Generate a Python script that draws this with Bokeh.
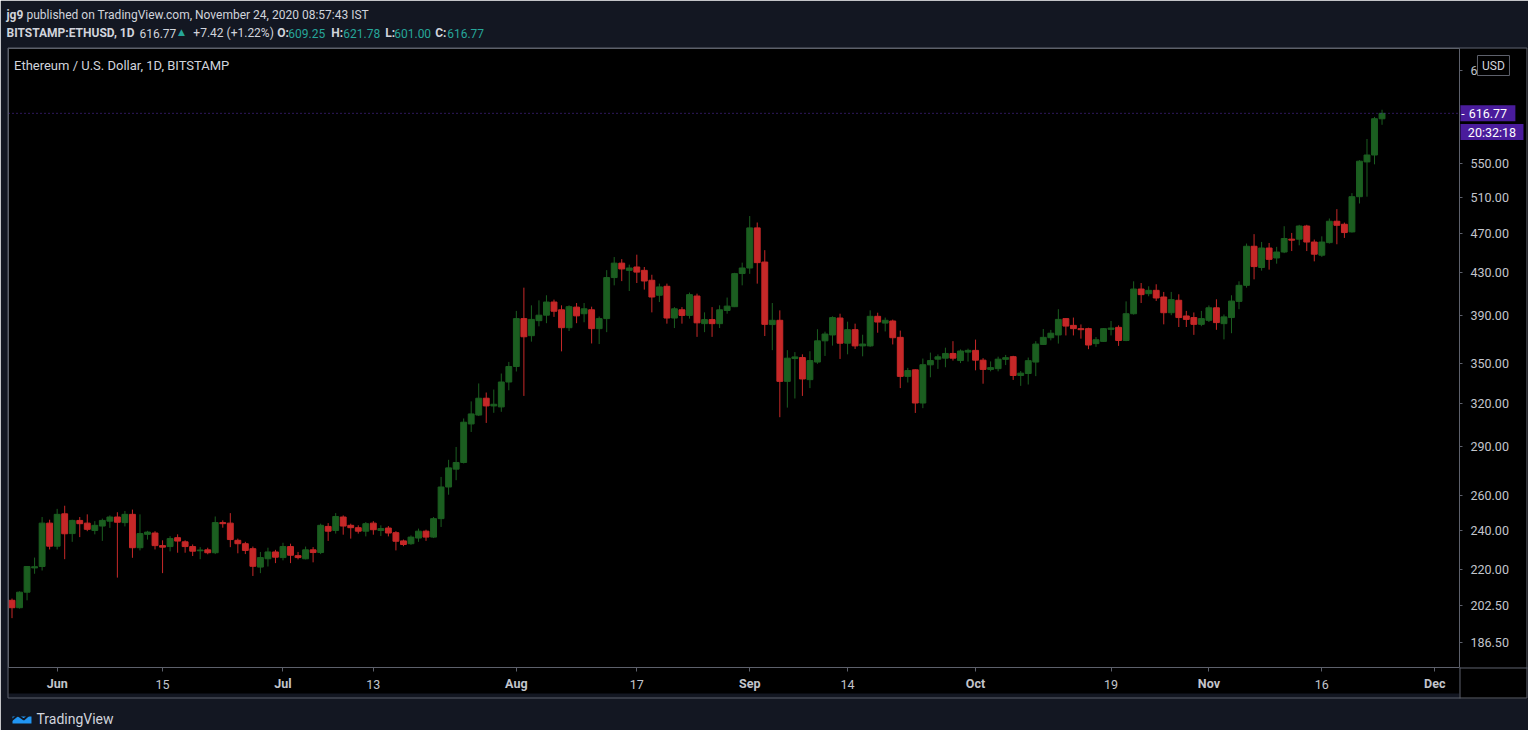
import math
import pandas as pd
from bokeh.plotting import figure
from bokeh.models import (Range1d, FixedTicker, PrintfTickFormatter, Label, Span,
                          ColumnDataSource)
from bokeh.core.properties import value
from bokeh.embed import file_html
from bokeh.resources import INLINE

# ---------------- data (BITSTAMP:ETHUSD daily) ----------------
START = "2020-05-26"
ORIGIN = "2020-06-01"

opens = [
    205.0, 201.6, 208.8, 220.6, 221.3, 244.1,
    231.7, 249.3, 238.4, 245.6, 244.1, 240.1, 242.5, 245.2, 247.5, 244.4,
    249.0, 230.9, 238.0, 238.7, 232.0, 231.5, 236.2, 234.0, 231.5, 229.3,
    229.8, 228.3, 244.4, 244.1, 234.8, 233.0, 230.4, 221.0, 225.2, 228.7,
    225.8, 231.5, 226.8, 225.2, 229.8, 228.4, 242.3, 240.1, 247.5, 242.9,
    241.6, 239.7, 244.1, 240.1, 241.4, 238.9, 234.5, 233.0, 236.0, 239.7,
    236.5, 246.6, 264.9, 275.8, 280.0, 305.5, 311.7, 323.8, 318.2, 317.5, 335.9,
    347.9, 387.7, 373.0, 385.9, 390.7, 402.5, 395.5, 379.8, 397.9, 392.0,
    395.5, 379.0, 387.7, 425.4, 439.5, 432.4, 435.7, 432.4, 422.8, 408.7,
    417.1, 388.2, 395.5, 390.5, 408.0, 383.3, 386.8, 383.3, 394.9, 398.3, 429.3,
    434.7, 476.0, 440.6, 382.5, 386.2, 336.4, 354.2, 355.0, 337.7, 351.4,
    368.7, 373.6, 388.2, 366.7, 378.1, 364.5, 364.5, 389.7, 383.8, 385.6,
    371.6, 340.2, 345.3, 320.3, 349.2, 353.7, 354.5, 358.3, 352.6, 359.4,
    360.8, 352.9, 345.6, 346.2, 353.6, 355.7, 340.9, 342.4, 351.4, 365.7,
    371.3, 373.6, 387.7, 381.8, 379.0, 379.0, 366.4, 368.2, 378.4, 380.1,
    369.0, 392.0, 414.5, 410.2, 413.3, 407.1, 392.9, 404.1, 390.0, 388.6, 382.7,
    386.2, 397.3, 383.3, 388.6, 403.1, 418.0, 456.6, 435.2, 454.8, 444.7,
    450.7, 464.0, 464.0, 478.0, 461.0, 447.5, 460.4, 483.2, 479.9, 471.7,
    510.8, 552.6, 561.3, 609.25,
]
highs = [
    205.8, 209.2, 221.5, 225.8, 247.5, 246.0,
    252.1, 253.9, 246.0, 247.5, 249.0, 245.2, 246.6, 248.4, 250.2, 250.9,
    251.7, 249.0, 239.9, 239.7, 234.8, 237.0, 238.0, 234.8, 232.6, 231.2,
    230.9, 247.8, 245.6, 249.7, 235.7, 234.0, 231.5, 228.7, 230.9, 229.8,
    233.5, 233.0, 228.7, 231.5, 231.2, 243.8, 244.1, 249.7, 248.4, 243.8,
    242.9, 244.7, 245.2, 242.9, 242.5, 239.7, 235.2, 237.4, 241.1, 240.5,
    247.5, 271.0, 281.7, 290.0, 309.3, 321.5, 334.8, 328.0, 330.2, 342.4, 351.5,
    394.5, 415.8, 399.5, 404.0, 408.7, 404.7, 399.5, 399.5, 401.6, 401.6,
    398.3, 389.5, 432.6, 445.6, 443.5, 438.0, 448.0, 435.7, 428.1, 419.6,
    419.6, 397.9, 397.9, 411.2, 410.2, 393.2, 397.9, 399.5, 406.6, 430.0, 440.0,
    488.9, 481.8, 452.6, 401.6, 395.0, 361.0, 359.4, 357.6, 360.1, 378.5,
    376.4, 389.7, 392.0, 385.0, 383.3, 373.8, 395.0, 392.9, 388.6, 386.8,
    377.3, 346.8, 345.6, 354.2, 359.0, 357.5, 363.0, 368.4, 361.6, 362.2,
    369.7, 354.5, 351.9, 355.7, 357.1, 356.4, 344.3, 355.0, 368.4, 378.7,
    377.9, 396.0, 388.2, 388.6, 382.6, 379.8, 371.8, 379.5, 385.6, 381.8,
    403.1, 421.8, 420.2, 417.1, 419.0, 411.8, 411.8, 409.6, 394.5, 393.1, 394.5,
    399.4, 405.0, 391.3, 408.7, 421.8, 459.4, 469.3, 461.1, 460.0, 456.0,
    477.8, 470.6, 479.3, 479.3, 463.6, 467.0, 486.2, 496.6, 481.7, 514.9,
    554.8, 582.0, 611.8, 621.78,
]
lows = [
    196.9, 201.2, 205.0, 217.7, 219.3, 230.0,
    230.0, 225.0, 234.0, 236.5, 239.7, 238.0, 234.5, 241.5, 215.8, 242.3,
    225.7, 229.5, 235.2, 230.0, 218.0, 229.0, 228.3, 228.3, 226.6, 225.0,
    227.5, 227.6, 241.6, 231.2, 228.0, 227.6, 216.6, 218.0, 221.3, 223.0,
    224.4, 223.0, 224.9, 224.9, 223.4, 227.6, 234.5, 238.4, 237.8, 235.7,
    238.4, 236.9, 237.8, 237.1, 236.9, 229.5, 231.7, 232.4, 234.0, 234.5,
    236.0, 242.0, 260.3, 269.0, 279.4, 300.0, 311.0, 306.2, 313.3, 314.0, 329.7,
    344.0, 325.5, 368.0, 381.0, 383.7, 389.2, 360.0, 377.0, 383.7, 384.5,
    366.5, 366.0, 376.0, 418.0, 422.0, 412.7, 420.2, 414.0, 393.2, 402.5,
    383.3, 379.5, 383.3, 387.7, 372.0, 376.0, 372.0, 379.5, 392.0, 397.9, 418.0,
    429.0, 419.6, 372.7, 361.0, 310.2, 317.0, 323.6, 325.5, 331.3, 350.0,
    356.3, 364.7, 353.9, 357.6, 362.0, 356.0, 363.7, 375.5, 376.6, 365.7,
    331.3, 335.5, 313.2, 316.6, 339.5, 346.0, 347.3, 352.6, 350.6, 351.8,
    344.9, 334.6, 344.1, 344.1, 349.0, 337.5, 333.0, 334.0, 340.4, 365.2,
    369.1, 366.4, 373.2, 373.2, 370.5, 361.8, 363.7, 367.7, 373.2, 364.5,
    368.4, 391.2, 401.6, 407.8, 403.5, 382.7, 390.7, 380.4, 380.4, 373.7, 381.1,
    384.7, 378.0, 369.9, 375.1, 396.0, 415.8, 423.7, 432.1, 433.1, 439.0,
    449.6, 451.7, 457.6, 451.7, 441.3, 445.8, 459.4, 458.7, 465.3, 471.0,
    503.0, 510.8, 549.6, 601.00,
]
closes = [
    201.6, 208.8, 221.3, 221.2, 244.1, 231.7,
    249.0, 238.3, 245.6, 243.8, 240.7, 242.9, 245.6, 247.5, 244.6, 249.0,
    230.9, 238.4, 239.2, 232.0, 231.2, 235.7, 234.4, 231.5, 229.1, 229.7,
    228.3, 244.4, 243.8, 235.2, 233.0, 229.5, 221.4, 225.8, 228.7, 226.0,
    231.5, 227.0, 225.8, 229.8, 228.4, 242.9, 239.7, 247.8, 242.5, 241.6,
    239.7, 243.8, 240.5, 241.1, 238.7, 234.3, 232.6, 236.5, 239.7, 236.5,
    246.6, 264.9, 276.6, 280.0, 306.7, 312.5, 323.8, 318.2, 319.4, 335.9, 347.9,
    387.7, 372.1, 387.0, 390.7, 402.5, 394.2, 379.8, 398.3, 390.1, 396.4,
    379.0, 387.7, 425.4, 439.5, 433.8, 434.7, 430.7, 422.1, 407.1, 416.5,
    388.2, 396.4, 390.5, 409.3, 384.0, 386.8, 383.3, 395.5, 398.8, 429.2, 434.7,
    476.0, 440.0, 382.7, 386.2, 336.4, 354.5, 355.5, 338.2, 352.6, 368.7,
    374.4, 388.6, 366.7, 378.1, 364.5, 366.0, 389.7, 384.7, 386.2, 371.3,
    340.2, 344.7, 320.3, 349.3, 352.6, 355.6, 358.3, 354.5, 360.3, 360.8,
    352.9, 345.6, 347.0, 353.7, 354.9, 340.9, 342.7, 352.5, 366.0, 371.6,
    375.1, 387.0, 381.2, 379.0, 378.1, 365.2, 369.6, 379.0, 379.5, 369.0,
    392.0, 414.5, 409.3, 413.3, 406.2, 392.9, 404.7, 388.6, 387.0, 382.7, 387.7,
    397.3, 384.2, 389.2, 403.4, 418.0, 456.6, 436.1, 454.8, 443.3, 450.7,
    464.7, 463.0, 478.0, 461.0, 448.5, 461.0, 483.2, 478.8, 471.0, 510.8,
    553.5, 561.3, 609.35, 616.77,
]

x_tick_dates = ["2020-06-01", "2020-06-15", "2020-07-01", "2020-07-13", "2020-08-01",
                "2020-08-17", "2020-09-01", "2020-09-14", "2020-10-01", "2020-10-19",
                "2020-11-01", "2020-11-16", "2020-12-01"]
x_tick_labels = ["Jun", "15", "Jul", "13", "Aug", "17", "Sep", "14", "Oct", "19",
                 "Nov", "16", "Dec"]
y_ticks = [186.5, 202.5, 220, 240, 260, 290, 320, 350, 390, 430, 470, 510, 550, 680]

last_price = 616.77
countdown = "20:32:18"

# ---------------- styling / layout ----------------
PAGE = "#131722"
UP = "#1b5e20"
DOWN = "#c62828"
AXIS_GRAY = "#5d606b"
LABEL_GRAY = "#c3c5cc"
HEAD = "#d1d4dc"
TEAL = "#26a69a"
PURPLE = "#4a1c9c"
LOGO_BLUE = "#2196f3"
FONT = "Roboto"

W, H = 1528, 730
FL, FR, FT, FB = 8, 1460, 48, 667          # plot frame edges in canvas pixels
X0, X1 = -6.465, 186.29                     # visible days relative to ORIGIN
Y0, Y1 = 176.1, 714.2                       # visible price range (log)

dates = pd.date_range(START, periods=len(closes), freq="D")
origin = pd.Timestamp(ORIGIN)
xd = [(d - origin) / pd.Timedelta(days=1) for d in dates]
src = ColumnDataSource(dict(
    x=xd, open=opens, high=highs, low=lows, close=closes,
    top=[max(o, c) for o, c in zip(opens, closes)],
    bottom=[min(o, c) for o, c in zip(opens, closes)],
    color=[UP if c >= o else DOWN for o, c in zip(opens, closes)],
))
tick_x = [(pd.Timestamp(d) - origin) / pd.Timedelta(days=1) for d in x_tick_dates]

p = figure(width=W, height=H, y_axis_type="log", y_axis_location="right",
           x_range=Range1d(X0, X1), y_range=Range1d(Y0, Y1),
           output_backend="svg", toolbar_location=None,
           min_border_left=FL, min_border_right=W - FR, min_border_top=FT,
           min_border_bottom=H - FB)
p.background_fill_color = "black"
p.border_fill_color = PAGE
p.outline_line_color = AXIS_GRAY
p.grid.visible = False

p.segment("x", "low", "x", "high", source=src, line_color="color", line_width=1)
p.vbar(x="x", width=0.78, top="top", bottom="bottom", source=src,
       fill_color="color", line_color="color", line_width=1)

p.add_layout(Span(location=last_price, dimension="width", line_color="#5b2fb8",
                  line_dash="1 3", line_width=1))

# right price axis
ya = p.yaxis[0]
ya.ticker = FixedTicker(ticks=y_ticks)
ya.formatter = PrintfTickFormatter(format="%.2f")
ya.major_label_text_font = FONT
ya.major_label_text_font_size = "12.5px"
ya.major_label_text_color = LABEL_GRAY
ya.major_tick_out = 3
ya.major_tick_in = 0
ya.minor_tick_out = 0
ya.minor_tick_in = 0
ya.major_label_standoff = 8
ya.major_tick_line_color = AXIS_GRAY
ya.axis_line_color = AXIS_GRAY
ya.background_fill_color = "black"
ya.axis_label = " "
ya.axis_label_text_font_size = "10px"
ya.axis_label_standoff = 3

# bottom time axis: month names bold on the axis itself
xa = p.xaxis[0]
xa.ticker = FixedTicker(ticks=tick_x)
xa.major_label_overrides = {t: (lab if lab.isalpha() else " ")
                            for t, lab in zip(tick_x, x_tick_labels)}
xa.major_label_text_font = FONT
xa.major_label_text_font_size = "12.5px"
xa.major_label_text_font_style = "bold"
xa.major_label_text_color = LABEL_GRAY
xa.major_tick_out = 4
xa.major_tick_in = 0
xa.minor_tick_out = 0
xa.minor_tick_in = 0
xa.major_label_standoff = 4
xa.major_tick_line_color = AXIS_GRAY
xa.axis_line_color = AXIS_GRAY
xa.background_fill_color = "black"

# helpers: canvas pixel -> data coordinate (for things that sit outside the frame)
ppd = (FR - FL) / (X1 - X0)


def xdata(X):
    return X0 + (X - FL) / ppd


def ydata(Y):
    ly0, ly1 = math.log(Y0), math.log(Y1)
    return math.exp(ly0 + (FB - Y) / (FB - FT) * (ly1 - ly0))


def put(text, X, Y, color=HEAD, size="12px", bold=False, align="left", font=FONT):
    p.text(x=[xdata(X)], y=[ydata(Y)], text=[text], text_color=color,
           text_font=value(font), text_font_size=size,
           text_font_style="bold" if bold else "normal",
           text_align=align, text_baseline="middle", level="overlay")


# outer chart box: black corner under the price scale, separators and border
p.quad(left=[xdata(FR)], right=[xdata(W)], top=[ydata(FB)], bottom=[ydata(698)],
       fill_color="black", line_color=None, level="overlay")
p.segment(x0=[xdata(FR + 0.5), xdata(FR)], y0=[ydata(FB), ydata(FB + 0.5)],
          x1=[xdata(FR + 0.5), xdata(W)], y1=[ydata(698), ydata(FB + 0.5)],
          line_color=AXIS_GRAY, line_width=1, level="overlay")
p.quad(left=[xdata(7.5)], right=[xdata(W - 0.5)], top=[ydata(47.5)], bottom=[ydata(697.5)],
       fill_color=None, line_color=AXIS_GRAY, line_width=1, level="overlay")

# day-number labels of the time axis (normal weight)
day_x = [t for t, lab in zip(tick_x, x_tick_labels) if not lab.isalpha()]
day_t = [lab for lab in x_tick_labels if not lab.isalpha()]
p.text(x=day_x, y=[ydata(684)] * len(day_x), text=day_t, text_color=LABEL_GRAY,
       text_font=value(FONT), text_font_size="12.5px", text_align="center",
       text_baseline="middle", level="overlay")

# header
put("jg9", 6, 14.5, bold=True)
put("published on TradingView.com, November 24, 2020 08:57:43 IST", 26, 14.5)
put("BITSTAMP:ETHUSD, 1D", 6, 32.5, bold=True)
put(f"{last_price:.2f}", 139, 32.5)
put("\u25B2", 181, 31.5, color=TEAL, size="9px", align="center", font="DejaVu Sans")
put("+7.42 (+1.22%)", 193, 32.5)
seg_x = [(277, 288), (331, 343), (385, 394), (435, 447)]
for (lx, vx), k, v in zip(seg_x, ["O:", "H:", "L:", "C:"],
                          [opens[-1], highs[-1], lows[-1], closes[-1]]):
    put(k, lx, 32.5, bold=True)
    put(f"{v:.2f}", vx, 32.5, color=TEAL)

# legend title inside the chart
p.add_layout(Label(x=13.5 - FL, y=FB - 65, x_units="screen", y_units="screen",
                   text="Ethereum / U.S. Dollar, 1D, BITSTAMP", text_color=HEAD,
                   text_font=FONT, text_font_size="13px", text_baseline="middle"))

# price-scale badges
p.rect(x=[xdata(1494)], y=[ydata(65)], width=32, height=20, width_units="screen",
       height_units="screen", fill_color="black", line_color=AXIS_GRAY, level="overlay")
put("USD", 1494, 65, size="12px", align="center")
p.rect(x=[xdata(1488.4)], y=[last_price], width=55, height=16, width_units="screen",
       height_units="screen", fill_color=PURPLE, line_color=None, level="overlay")
put(f"{last_price:.2f}", 1488.4, 113, color="white", size="12.5px", align="center")
put("-", 1463.5, 112.5, color="white", size="12px", align="center")
p.rect(x=[xdata(1492.5)], y=[ydata(131.5)], width=63, height=16, width_units="screen",
       height_units="screen", fill_color=PURPLE, line_color=None, level="overlay")
put(countdown, 1492.5, 131.5, color="white", size="12.5px", align="center")

# footer logo: blue cloud with a small line-chart stroke, then the word mark
cloud_x = [14, 24, 30]
cloud_y = [717.5, 715.5, 718.5]
cloud_r = [5.5, 6.5, 4.5]
p.circle(x=[xdata(v) for v in cloud_x], y=[ydata(v) for v in cloud_y], radius=cloud_r,
         radius_units="screen", fill_color=LOGO_BLUE, line_color=None, level="overlay")
p.quad(left=[xdata(12)], right=[xdata(31)], top=[ydata(716)], bottom=[ydata(723)],
       fill_color=LOGO_BLUE, line_color=None, level="overlay")
stroke_x = [9.5, 17.3, 23.3, 29.5]
stroke_y = [721.0, 714.7, 719.0, 713.5]
p.line(x=[xdata(v) for v in stroke_x], y=[ydata(v) for v in stroke_y],
       line_color=PAGE, line_width=2, level="overlay")
put("TradingView", 36, 718, size="14px")

open("out.html", "w").write(file_html(p, INLINE))
